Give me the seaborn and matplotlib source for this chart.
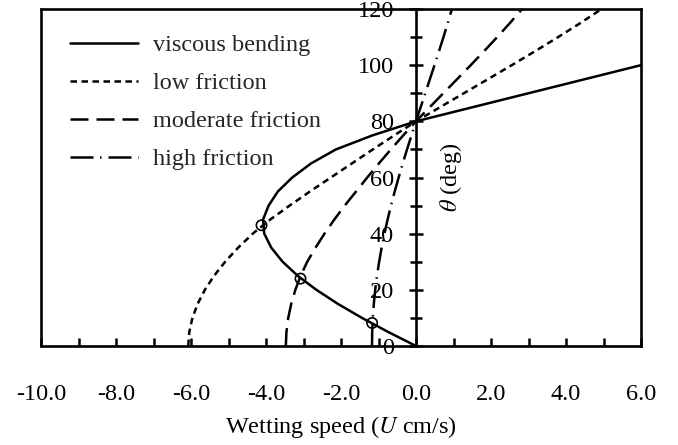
import numpy as np
import pandas as pd
import matplotlib
matplotlib.use("Agg")
import matplotlib.pyplot as plt
import seaborn as sns

# ---- data ----
theta_fric = [0, 5, 10, 15, 20, 25, 30, 35, 40, 45, 50, 55, 60, 65, 70, 75, 80,
              85, 90, 95, 100, 105, 110, 115, 120]
u_low = [-6.074, -6.046, -5.962, -5.823, -5.630, -5.385, -5.089, -4.744, -4.354,
         -3.890, -3.370, -2.830, -2.270, -1.710, -1.150, -0.580, 0.0,
         0.636, 1.276, 1.917, 2.553, 3.179, 3.790, 4.383, 4.951]
u_mod = [-3.471, -3.455, -3.407, -3.328, -3.217, -3.077, -2.900, -2.680, -2.440,
         -2.180, -1.900, -1.600, -1.300, -0.990, -0.670, -0.340, 0.0,
         0.363, 0.729, 1.095, 1.459, 1.816, 2.166, 2.504, 2.829]
u_high = [-1.173, -1.168, -1.152, -1.125, -1.088, -1.040, -0.983, -0.917, -0.841,
          -0.758, -0.666, -0.568, -0.463, -0.354, -0.239, -0.121, 0.0,
          0.123, 0.247, 0.370, 0.493, 0.614, 0.732, 0.847, 0.957]
theta_visc = [0, 5, 10, 15, 20, 25, 30, 35, 40, 45, 50, 55, 60, 65, 70, 75, 80,
              85, 90, 95, 100]
u_visc = [0.0, -0.742, -1.440, -2.083, -2.657, -3.153, -3.557, -3.859, -4.046,
          -4.080, -3.930, -3.685, -3.300, -2.800, -2.135, -1.160, 0.0,
          1.5, 3.0, 4.5, 6.0]
cross_u = [-4.12, -3.08, -1.17]
cross_theta = [43.0, 24.0, 8.2]

series_names = ["viscous bending", "low friction", "moderate friction", "high friction"]
x_ticks = [-10, -8, -6, -4, -2, 0, 2, 4, 6]
y_ticks = [0, 20, 40, 60, 80, 100, 120]

# ---- style ----
sns.set_theme(style="white")
plt.rcParams["font.family"] = ["Liberation Serif", "DejaVu Serif"]
plt.rcParams["mathtext.fontset"] = "stix"
FS = 17.5
LW = 1.8

fig = plt.figure(figsize=(6.78, 4.45), dpi=100)
ax = fig.add_axes([41 / 678, 99 / 445, 600 / 678, 337 / 445])

styles = [
    "-",
    (0, (2.6, 1.8)),
    (0, (7.2, 3.2)),
    (0, (9.2, 2.6, 0.6, 2.8)),
]
data = [
    (u_visc, theta_visc),
    (u_low, theta_fric),
    (u_mod, theta_fric),
    (u_high, theta_fric),
]
for (u, th), name, ls in zip(data, series_names, styles):
    sns.lineplot(x=u, y=th, sort=False, estimator=None, ax=ax, color="black",
                 lw=LW, linestyle=ls, label=name)

sns.scatterplot(x=cross_u, y=cross_theta, ax=ax, s=55, marker="o",
                facecolor="none", edgecolor="black", linewidth=1.2, zorder=5)

ax.set_xlim(-10, 6)
ax.set_ylim(0, 120)

# frame
for sp in ax.spines.values():
    sp.set_color("black")
    sp.set_linewidth(1.9)
ax.spines["left"].set_position(("data", 0))
ax.axvline(-10, color="black", lw=1.9, clip_on=False, zorder=6)

ax.set_xticks(x_ticks)
ax.set_xticklabels([f"{v:.1f}" for v in x_ticks])
ax.set_xticks(np.arange(-9, 6, 2), minor=True)
ax.set_yticks(y_ticks)
ax.set_yticklabels([str(v) for v in y_ticks])
ax.set_yticks(np.arange(10, 120, 20), minor=True)

ax.tick_params(axis="x", which="both", direction="in", length=5.5, width=1.8,
               color="black", bottom=True, top=False, labelsize=FS, pad=27,
               labelcolor="black")
ax.tick_params(axis="y", which="major", direction="inout", length=9.5, width=1.8,
               color="black", left=True, right=False, labelsize=FS, pad=11,
               labelcolor="black")
ax.tick_params(axis="y", which="minor", direction="inout", length=8.5, width=1.8,
               color="black", left=True, right=False)

ax.set_xlabel("Wetting speed ($U$ cm/s)", fontsize=FS, color="black", labelpad=7)
ax.set_ylabel(r"$\theta$ (deg)", fontsize=FS, color="black")
ax.yaxis.set_label_coords(0.705, 0.5)

ax.legend(loc="upper left", bbox_to_anchor=(0.048, 0.925), frameon=False,
          fontsize=FS, handlelength=2.8, handletextpad=0.62, labelspacing=0.66,
          borderpad=0, borderaxespad=0)

fig.savefig("out.png", dpi=100)
